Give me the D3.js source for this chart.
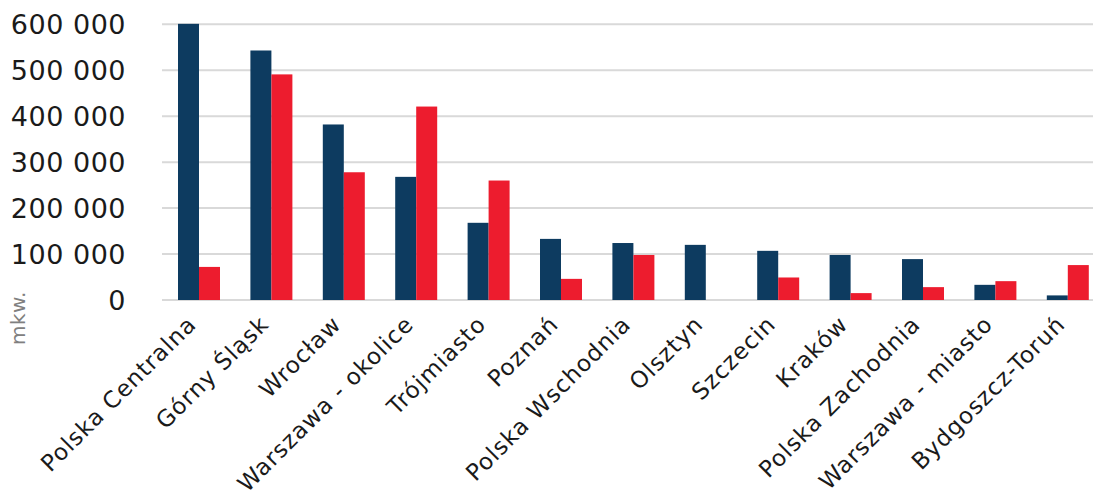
<!DOCTYPE html>
<html><head><meta charset="utf-8">
<script src="https://cdn.jsdelivr.net/npm/d3@7"></script>
<style>body{margin:0;background:#fff}svg{display:block}</style>
</head><body>
<svg id="c" width="1093" height="501"></svg>
<script>
const categories = ["Polska Centralna","Górny Śląsk","Wrocław","Warszawa - okolice","Trójmiasto","Poznań","Polska Wschodnia","Olsztyn","Szczecin","Kraków","Polska Zachodnia","Warszawa - miasto","Bydgoszcz-Toruń"];
const seriesA = [601000,543000,382000,268000,168000,133000,124000,120000,107000,98000,89000,33000,10000];
const seriesB = [72000,491000,278000,421000,260000,46000,98000,0,49000,15000,28000,41000,76000];
const yTicks = [0,100000,200000,300000,400000,500000,600000];
const colors = ["#0d3b60","#ed1c2e"];

const svg = d3.select("#c");
const font = "'DejaVu Sans', sans-serif";
const x = d3.scaleBand().domain(categories).range([162.8,1104]).paddingInner(0.42).paddingOuter(0.21);
const y = d3.scaleLinear().domain([0,600000]).range([300,24.3]);
const fmt = v => d3.format(",")(v).replace(/,/g," ");

svg.append("g").selectAll("line").data(yTicks).join("line")
  .attr("x1",162).attr("x2",1093).attr("y1",d=>y(d)).attr("y2",d=>y(d))
  .attr("stroke","#d9d9d9").attr("stroke-width",2);

svg.append("g").selectAll("text").data(yTicks).join("text")
  .attr("x",126).attr("y",d=>y(d)).attr("dy","0.36em").attr("text-anchor","end")
  .attr("font-family",font).attr("font-size",27).attr("letter-spacing",0.5).attr("fill","#1a1a1a").text(fmt);

const sub = d3.scaleBand().domain([0,1]).range([0,x.bandwidth()]);
const g = svg.append("g");
[seriesA,seriesB].forEach((s,i)=>{
  g.append("g").selectAll("rect").data(s).join("rect")
    .attr("x",(d,j)=>x(categories[j])+sub(i)).attr("width",sub.bandwidth())
    .attr("y",d=>y(d)).attr("height",d=>y(0)-y(d)).attr("fill",colors[i]);
});

svg.append("g").selectAll("text").data(categories).join("text")
  .attr("transform",d=>`translate(${x(d)+x.bandwidth()/2-7},${320}) rotate(-45)`)
  .attr("text-anchor","end").attr("dy","0.35em")
  .attr("font-family",font).attr("font-size",23).attr("letter-spacing",1).attr("fill","#1a1a1a").text(d=>d);

svg.append("text").attr("transform","translate(18,318) rotate(-90)")
  .attr("text-anchor","middle").attr("dy","0.35em")
  .attr("font-family",font).attr("font-size",20).attr("letter-spacing",0.5).attr("fill","#808080").text("mkw.");
</script>
</body></html>
